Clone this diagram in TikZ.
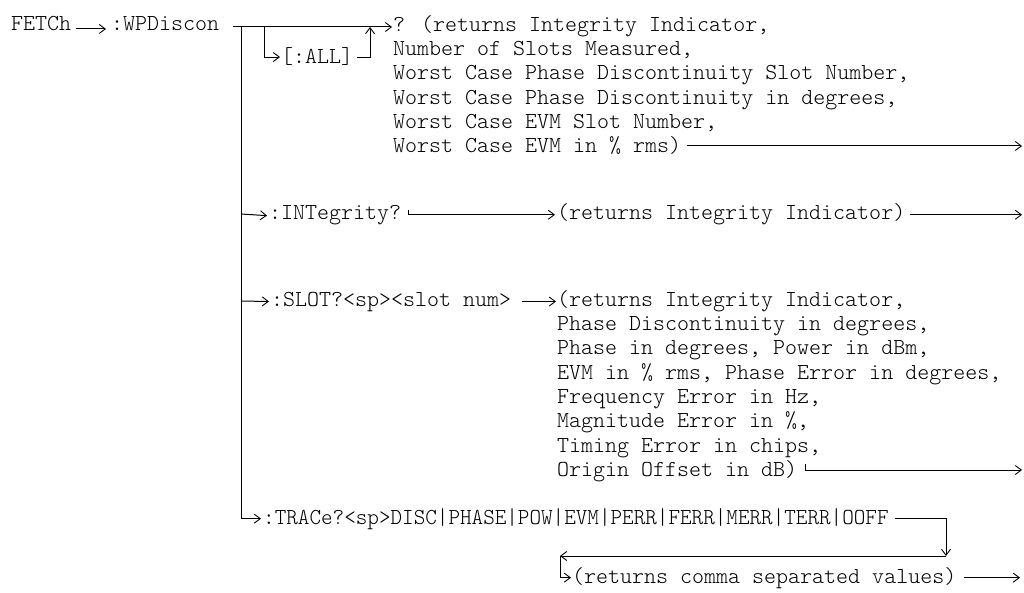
\documentclass[tikz,border=0pt]{standalone}
\usepackage{fontspec}
\newfontfamily\mono[Extension=.otf]{lmmonolt10-regular}
\newfontfamily\monotr[Extension=.otf,FakeStretch=0.965]{lmmonolt10-regular}
\usetikzlibrary{arrows.meta,calc}
\begin{document}
\begin{tikzpicture}[x=1pt,y=-1pt,
  txt/.style={font=\mono\fontsize{22.86}{24.3}\selectfont, inner sep=0pt, anchor=base west},
  blk/.style={font=\mono\fontsize{22.86}{24.3}\selectfont, inner sep=0pt, anchor=north west, align=left},
  ln/.style={line width=1pt},
  arr/.style={line width=1pt, -{Straight Barb[length=6pt,width=9pt,line width=0.9pt]}}]
\useasboundingbox (0,0) rectangle (1024,593);
% row 0
\node[txt] (fetch) at (11,31) {FETCh};
\node[txt] (wp) at (111,31) {:WPDiscon};
\draw[arr] ($(fetch.base east)+(5,-2)$) -- ($(wp.base west)+(-5,-2)$);
\coordinate (tstart) at (233,27);
\coordinate (ttop) at (241,27);
\coordinate (allsplit) at (264,27);
\coordinate (allrt) at (370,27);
\node[blk] (top) at (393,14) {\strut? (returns Integrity Indicator,\\Number of Slots Measured,\\Worst Case Phase Discontinuity Slot Number,\\Worst Case Phase Discontinuity in degrees,\\Worst Case EVM Slot Number,\\Worst Case EVM in \% rms)};
\draw[arr] (tstart) -- ([xshift=-1pt]top.north west |- tstart);
\node[txt] (all) at (281,64) {[:ALL]};
\draw[arr] (allsplit) |- ([xshift=-1pt]all.west);
\draw[arr] ([xshift=4pt]all.east) -| (allrt);
\coordinate (rmsout) at (687,146);
\coordinate (rmsend) at (1022,146);
\draw[arr] (rmsout) -- (rmsend);
% INTegrity
\coordinate (tint) at (241,214);
\node[txt] (int) at (269,220) {:INTegrity?};
\node[txt] (intr) at (557,220) {(returns Integrity Indicator)};
\coordinate (intend) at (1022,215);
\draw[arr] (tint) -- ([xshift=-2pt]int.west);
\draw[arr] ([xshift=7pt,yshift=6pt]int.east) |- ([xshift=-2pt]intr.west);
\draw[arr] ([xshift=5pt]intr.east) -- (intend |- intr.east);
% SLOT
\coordinate (tslot) at (241,301);
\node[txt] (slot) at (271,306) {:SLOT?<sp><slot num>};
\node[blk] (slotr) at (557,289) {\strut(returns Integrity Indicator,\\Phase Discontinuity in degrees,\\Phase in degrees, Power in dBm,\\EVM in \% rms, Phase Error in degrees,\\Frequency Error in Hz,\\Magnitude Error in \%,\\Timing Error in chips,\\Origin Offset in dB)};
\draw[arr] (tslot) -- ([xshift=-2pt]slot.west);
\draw[arr] ([xshift=11pt]slot.east) -- ([xshift=-1pt]slotr.north west |- slot.west);
\coordinate (orig) at (805,464);
\coordinate (origend) at (1022,470);
\draw[arr] (orig) |- (origend);
% TRACe
\node[txt,font=\monotr\fontsize{22.86}{24.3}\selectfont] (tr) at (263,524) {:TRACe?<sp>DISC|PHASE|POW|EVM|PERR|FERR|MERR|TERR|OOFF};
\draw[arr] (ttop) |- ([xshift=-2pt]tr.west);
\coordinate (hk) at (946,556);
\coordinate (lft) at (560,556);
\draw[arr] ([xshift=6pt]tr.east) -| (hk);
\draw[arr] (hk) -- (lft);
\node[txt] (ret) at (572,583) {(returns comma separated values)};
\draw[arr] (lft) |- ([xshift=-1pt]ret.west);
\coordinate (retend) at (1020,577);
\draw[arr] ([xshift=8pt]ret.east) -- (retend |- ret.east);
\end{tikzpicture}
\end{document}
